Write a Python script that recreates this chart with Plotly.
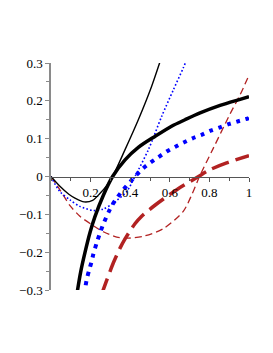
import plotly.graph_objects as go

# ---- data ----
black_thick_x = [0.128, 0.133, 0.150, 0.172, 0.197, 0.222, 0.264, 0.311, 0.374, 0.441, 0.525, 0.609, 0.677, 0.753, 0.854, 0.955, 1.0]
black_thick_y = [-0.322, -0.304, -0.252, -0.200, -0.148, -0.106, -0.050, 0.0, 0.044, 0.077, 0.106, 0.133, 0.150, 0.168, 0.188, 0.204, 0.211]

black_thin_x = [0.0, 0.045, 0.090, 0.121, 0.167, 0.210, 0.247, 0.281, 0.311, 0.374, 0.441, 0.508, 0.551, 0.560]
black_thin_y = [0.0, -0.026, -0.047, -0.057, -0.067, -0.063, -0.045, -0.024, 0.0, 0.071, 0.150, 0.238, 0.304, 0.318]

blue_thick_x = [0.168, 0.172, 0.180, 0.194, 0.205, 0.214, 0.231, 0.247, 0.264, 0.290, 0.306, 0.335, 0.365, 0.424, 0.466, 0.503, 0.542, 0.584, 0.626, 0.670, 0.715, 0.760, 0.806, 0.854, 0.901, 0.946, 0.997, 1.0]
blue_thick_y = [-0.312, -0.298, -0.273, -0.245, -0.225, -0.205, -0.175, -0.150, -0.126, -0.095, -0.078, -0.055, -0.035, 0.0, 0.022, 0.037, 0.051, 0.066, 0.078, 0.090, 0.101, 0.110, 0.121, 0.130, 0.139, 0.146, 0.154, 0.155]

blue_thin_x = [0.0, 0.045, 0.096, 0.146, 0.214, 0.264, 0.315, 0.382, 0.424, 0.492, 0.559, 0.618, 0.668, 0.690]
blue_thin_y = [0.0, -0.040, -0.062, -0.079, -0.090, -0.086, -0.070, -0.040, 0.0, 0.071, 0.159, 0.229, 0.287, 0.315]

brown_thick_x = [0.255, 0.261, 0.298, 0.315, 0.348, 0.374, 0.424, 0.458, 0.525, 0.635, 0.745, 0.803, 0.887, 1.0]
brown_thick_y = [-0.315, -0.304, -0.251, -0.228, -0.190, -0.165, -0.125, -0.105, -0.076, -0.035, 0.0, 0.018, 0.036, 0.055]

brown_thin_x = [0.0, 0.045, 0.096, 0.146, 0.205, 0.264, 0.332, 0.380, 0.466, 0.567, 0.668, 0.712, 0.750, 0.820, 0.904, 0.955, 1.0]
brown_thin_y = [0.0, -0.035, -0.077, -0.105, -0.127, -0.146, -0.160, -0.163, -0.158, -0.138, -0.092, -0.047, 0.0, 0.075, 0.165, 0.216, 0.268]

x_tick_vals = [0.2, 0.4, 0.6, 0.8, 1.0]
x_tick_text = ["0.2", "0.4", "0.6", "0.8", "1"]
y_tick_vals = [-0.3, -0.2, -0.1, 0.0, 0.1, 0.2, 0.3]
y_tick_text = ["\u22120.3", "\u22120.2", "\u22120.1", "0", "0.1", "0.2", "0.3"]

BLUE = "#0000ff"
BROWN = "#b22222"

fig = go.Figure()

def add(x, y, color, width, dash):
    fig.add_trace(go.Scatter(x=x, y=y, mode="lines",
                             line=dict(color=color, width=width, dash=dash,
                                       shape="spline", smoothing=0.8),
                             hoverinfo="skip", showlegend=False))

add(brown_thin_x, brown_thin_y, BROWN, 1.3, "7px,4px")
add(brown_thick_x, brown_thick_y, BROWN, 3.5, "18px,7px")
add(blue_thin_x, blue_thin_y, BLUE, 1.6, "1.6px,2.2px")
add(blue_thick_x, blue_thick_y, BLUE, 4, "4px,5.5px")
add(black_thin_x, black_thin_y, "black", 1.4, "solid")
add(black_thick_x, black_thick_y, "black", 3.5, "solid")

font = dict(family="Liberation Serif", size=13, color="black")

# page body has an 8px default margin, so the figure is sized to compensate
fig.update_layout(
    width=265, height=345,
    margin=dict(l=43, r=24, t=55, b=63, autoexpand=False),
    paper_bgcolor="white", plot_bgcolor="white",
    showlegend=False,
    xaxis=dict(range=[0, 1], showgrid=False, zeroline=False, automargin=False,
               showline=True, linecolor="#555555", linewidth=1,
               anchor="free", position=0.5,
               tickmode="array", tickvals=x_tick_vals, ticktext=x_tick_text,
               ticks="outside", ticklen=4, tickcolor="#555555", tickfont=font,
               minor=dict(tickmode="linear", tick0=0, dtick=0.1, ticks="outside",
                          ticklen=3, tickcolor="#555555", showgrid=False)),
    yaxis=dict(range=[-0.3, 0.3], showgrid=False, zeroline=False, automargin=False,
               showline=True, linecolor="#8a8a8a", linewidth=1.5,
               tickmode="array", tickvals=y_tick_vals, ticktext=y_tick_text,
               ticks="outside", ticklen=4, tickcolor="#8a8a8a", tickfont=font,
               minor=dict(tickmode="linear", tick0=0, dtick=0.05, ticks="outside",
                          ticklen=3, tickcolor="#8a8a8a", showgrid=False)),
)

fig.write_html("out.html")
